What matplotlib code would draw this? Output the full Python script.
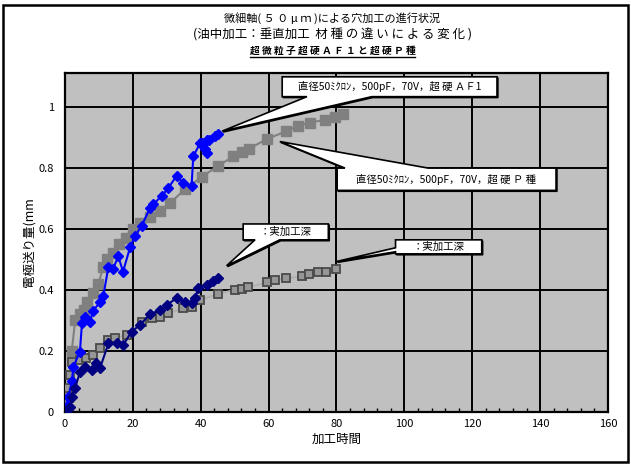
import matplotlib
matplotlib.use("Agg")
import matplotlib.pyplot as plt
from matplotlib.patches import Polygon, Rectangle
from matplotlib.lines import Line2D
import numpy as np

plt.rcParams['font.family'] = ['Noto Sans CJK JP', 'DejaVu Sans']

# 超硬P種 電極送り量
p_feed_x = [0, 1, 2, 3, 4.4, 5.5, 6.5, 8.3, 9.8, 11.3, 12.3, 14.2, 16, 18, 20, 22, 25, 28,
            31, 35.4, 40.3, 45.2, 49.6, 52.1, 54.2, 59.4, 65.1, 68.7, 72.2, 76.6, 79.5, 82]
p_feed_y = [0, 0.05, 0.2, 0.30, 0.32, 0.335, 0.36, 0.39, 0.42, 0.475, 0.50, 0.52, 0.55, 0.57,
            0.60, 0.62, 0.64, 0.66, 0.685, 0.73, 0.77, 0.807, 0.837, 0.851, 0.862, 0.894,
            0.919, 0.938, 0.948, 0.957, 0.966, 0.975]

# 超硬P種 実加工深
p_depth_x = [0, 0.5, 1, 1.5, 2, 4.4, 6.3, 8.3, 10.3, 12.8, 14.7, 18.2, 22.6, 25.5, 28, 30.4,
             34.9, 37.3, 39.8, 45.2, 50.1, 52.1, 54, 59.4, 61.9, 65.1, 69.7, 72, 74.6, 76.9, 79.8]
p_depth_y = [0, 0.03, 0.08, 0.12, 0.165, 0.17, 0.178, 0.187, 0.209, 0.236, 0.242, 0.252, 0.296,
             0.307, 0.312, 0.323, 0.34, 0.345, 0.367, 0.387, 0.40, 0.402, 0.408, 0.425, 0.433,
             0.438, 0.444, 0.451, 0.457, 0.457, 0.468]

# 超硬AF1 電極送り量
af_feed_x = [0, 0.5, 1, 2, 2.5, 4.4, 5, 5.9, 7.4, 8.2, 10.3, 11.3, 12.8, 14.2, 15.7, 17.1, 19.2,
             20.6, 22.6, 25, 26, 28.5, 30.4, 32.9, 34.8, 37.3, 37.8, 39.8, 41.7, 40.5, 41.7,
             41.2, 42.5, 44.2, 45.2]
af_feed_y = [0, 0.02, 0.05, 0.10, 0.149, 0.198, 0.29, 0.31, 0.296, 0.33, 0.36, 0.38, 0.476,
             0.47, 0.51, 0.46, 0.54, 0.575, 0.61, 0.667, 0.68, 0.708, 0.733, 0.774, 0.75,
             0.741, 0.837, 0.881, 0.848, 0.88, 0.89, 0.86, 0.89, 0.905, 0.912]

# 超硬AF1 実加工深
af_depth_x = [0, 1, 1.5, 2, 3, 4.4, 5.9, 7.9, 9, 10.3, 12.8, 15.2, 17.2, 19.6, 22.1, 25, 28,
              30, 32.9, 35.4, 37.3, 38.3, 39.3, 41.7, 43.5, 45.2]
af_depth_y = [0, 0.01, 0.017, 0.05, 0.08, 0.13, 0.149, 0.138, 0.16, 0.143, 0.225, 0.225, 0.22,
              0.263, 0.285, 0.32, 0.334, 0.351, 0.373, 0.36, 0.356, 0.373, 0.405, 0.416,
              0.43, 0.438]

title1 = "微細軸( ５ ０ μ ｍ )による穴加工の進行状況"
title2 = "(油中加工：垂直加工  材 種 の 違 い に よ る 変 化 )"
title3 = "超 微 粒 子 超 硬 Ａ Ｆ １ と 超 硬 Ｐ 種"
label_af = "直径50ﾐｸﾛﾝ，500pF，70V，超 硬 ＡＦ1"
label_p = "直径50ﾐｸﾛﾝ，500pF，70V，超 硬 Ｐ 種"
label_depth = "：実加工深"

fig = plt.figure(figsize=(6.31, 4.66), dpi=100)
ax = fig.add_axes([0.103, 0.1159, 0.8605, 0.7271])
ax.set_facecolor('#C0C0C0')

ax.plot(p_feed_x, p_feed_y, color='#808080', lw=1.5, marker='s', ms=6.5,
        mfc='#808080', mec='#808080', zorder=3)
ax.plot(p_depth_x, p_depth_y, color='#B0B0B0', lw=1.5, marker='s', ms=6,
        mfc='#969696', mec='#4A4A4A', mew=1.3, zorder=3)
ax.plot(af_feed_x, af_feed_y, color='#0000FF', lw=1.5, marker='D', ms=5.5,
        mfc='#0000FF', mec='#0000FF', zorder=4)
ax.plot(af_depth_x, af_depth_y, color='#000080', lw=1.5, marker='D', ms=5.5,
        mfc='#000080', mec='#000080', zorder=4)

ax.set_xlim(0, 160)
ax.set_ylim(0, 1.11)
ax.set_xticks(np.arange(0, 161, 20))
ax.set_xticks(np.arange(0, 161, 4), minor=True)
ax.set_yticks([0, 0.2, 0.4, 0.6, 0.8, 1.0])
ax.set_yticklabels(['0', '0.2', '0.4', '0.6', '0.8', '1'])
ax.grid(True, which='major', color='black', lw=1.4, zorder=1)
ax.set_axisbelow(True)
ax.tick_params(axis='x', which='major', direction='in', length=0, labelsize=8, pad=5)
ax.tick_params(axis='x', which='minor', direction='in', length=3, width=1)
ax.tick_params(axis='y', which='major', direction='in', length=0, labelsize=8, pad=8)
for s in ax.spines.values():
    s.set_linewidth(1.6)

ax.set_xlabel("加工時間", fontsize=9, labelpad=3)
ax.set_ylabel("電極送り量(mm", fontsize=9, labelpad=2)


def callout(pts, text, tx, ty):
    shadow = Polygon(pts, closed=True, fc='black', ec='black',
                     lw=1.0, zorder=5, clip_on=False,
                     transform=ax.transData + matplotlib.transforms.ScaledTranslation(
                         1.0 / 100, -1.0 / 100, fig.dpi_scale_trans))
    ax.add_patch(shadow)
    ax.add_patch(Polygon(pts, closed=True, fc='white', ec='black', lw=1.2,
                         zorder=6, clip_on=False))
    ax.text(tx, ty, text, fontsize=7.5, ha='center', va='center', zorder=7)


# 超硬AF1 送り量
callout([(64.0, 1.098), (127.3, 1.098), (127.3, 1.033), (90.4, 1.033), (46.3, 0.92),
         (71.3, 1.033), (64.0, 1.033)], label_af, 95.6, 1.066)
# 超硬P種 送り量
callout([(80.2, 0.799), (82.5, 0.799), (63.3, 0.886), (107.0, 0.799), (144.7, 0.799),
         (144.7, 0.726), (80.2, 0.726)], label_p, 112.4, 0.763)
# AF1 実加工深
callout([(52.5, 0.616), (77.6, 0.616), (77.6, 0.564), (63.3, 0.564), (47.6, 0.479),
         (56.0, 0.564), (52.5, 0.564)], label_depth, 65.0, 0.590)
# P種 実加工深
callout([(97.4, 0.564), (122.8, 0.564), (122.8, 0.518), (97.4, 0.518), (97.4, 0.525),
         (80.0, 0.493), (97.4, 0.538)], label_depth, 110.1, 0.541)

fig.text(0.527, 0.962, title1, fontsize=8, ha='center', va='center')
fig.text(0.527, 0.925, title2, fontsize=9, ha='center', va='center')
t3 = fig.text(0.527, 0.891, title3, fontsize=7, ha='center', va='center', fontweight='bold')

fig.canvas.draw()
bb = t3.get_window_extent().transformed(fig.transFigure.inverted())
fig.add_artist(Line2D([bb.x0, bb.x1], [bb.y0 - 0.002, bb.y0 - 0.002], color='black',
                      lw=1.0, transform=fig.transFigure))

fig.add_artist(Rectangle((0.005, 0.008), 0.99, 0.982, fill=False, ec='black', lw=1.8,
                         transform=fig.transFigure))

plt.savefig("out.png", dpi=100)
